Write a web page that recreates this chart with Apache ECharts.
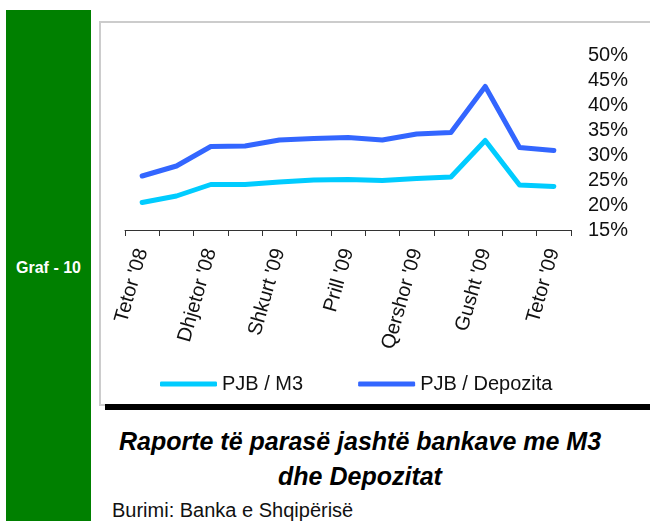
<!DOCTYPE html>
<html lang="sq">
<head>
    <meta charset="UTF-8">
    <title>Graf - 10</title>
    <script src="https://cdn.jsdelivr.net/npm/echarts/dist/echarts.min.js"></script>
    <style>
        body {
            margin: 0;
            padding: 0;
            width: 650px;
            height: 521px;
            position: relative;
            overflow: hidden;
            background: #fff;
            font-family: "Liberation Sans", Arial, sans-serif;
        }
        .sidebar {
            position: absolute;
            left: 6px;
            top: 10px;
            width: 85px;
            height: 511px;
            background: #008000;
        }
        .sidebar span {
            position: absolute;
            top: 249px;
            width: 100%;
            text-align: center;
            color: #fff;
            font-weight: bold;
            font-size: 16px;
        }
        .frame {
            position: absolute;
            left: 99px;
            top: 21px;
            width: 560px;
            height: 381px;
            border: 2px solid #cccccc;
            border-right: none;
        }
        .rule {
            position: absolute;
            left: 105px;
            top: 404px;
            width: 545px;
            height: 6px;
            background: #000;
        }
        .title {
            position: absolute;
            left: 100px;
            top: 424px;
            width: 520px;
            text-align: center;
            font-size: 25px;
            line-height: 35px;
            font-weight: bold;
            font-style: italic;
            color: #000;
        }
        .source {
            position: absolute;
            left: 112px;
            top: 499px;
            font-size: 20px;
            color: #111;
        }
        #chart {
            position: absolute;
            left: 0;
            top: 0;
            width: 650px;
            height: 521px;
        }
    </style>
</head>
<body>
<div class="sidebar"><span>Graf - 10</span></div>
<div class="frame"></div>
<div class="rule"></div>
<div class="title">Raporte të parasë jashtë bankave me M3<br>dhe Depozitat</div>
<div class="source">Burimi: Banka e Shqipërisë</div>
<div id="chart"></div>

<script>
    // muajt
    const months = ["Tetor '08", "Nëntor '08", "Dhjetor '08", "Janar '09", "Shkurt '09", "Mars '09",
        "Prill '09", "Maj '09", "Qershor '09", "Korrik '09", "Gusht '09", "Shtator '09", "Tetor '09"];

    // raportet ne %
    const pjbM3 = [20.5, 21.8, 24.1, 24.1, 24.6, 25.0, 25.1, 24.9, 25.3, 25.6, 32.9, 24.0, 23.7];
    const pjbDepozita = [25.8, 27.8, 31.7, 31.8, 33.0, 33.3, 33.5, 33.0, 34.2, 34.5, 43.7, 31.5, 30.9];

    const chart = echarts.init(document.getElementById("chart"));

    chart.setOption({
        animation: false,
        textStyle: { fontFamily: "Liberation Sans, Arial, sans-serif" },
        grid: { left: 125, right: 79, top: 55, bottom: 291, containLabel: false },
        legend: {
            left: 155,
            top: 369,
            icon: "roundRect",
            itemWidth: 57,
            itemHeight: 5,
            itemGap: 55,
            textStyle: { fontSize: 20, color: "#111" },
            data: ["PJB / M3", "PJB / Depozita"]
        },
        xAxis: {
            type: "category",
            data: months,
            boundaryGap: true,
            axisLine: { lineStyle: { color: "#333", width: 1 } },
            axisTick: { show: true, length: 6, interval: 0, lineStyle: { color: "#333" } },
            axisLabel: {
                interval: 1,
                rotate: 74,
                margin: 19,
                fontSize: 20,
                color: "#111"
            }
        },
        yAxis: {
            type: "value",
            position: "right",
            min: 15,
            max: 50,
            interval: 5,
            splitLine: { show: false },
            axisLine: { show: false },
            axisTick: { show: false },
            axisLabel: {
                margin: 17,
                fontSize: 20,
                color: "#111",
                formatter: "{value}%"
            }
        },
        series: [
            {
                name: "PJB / M3",
                type: "line",
                data: pjbM3,
                symbol: "none",
                lineStyle: { width: 5, color: "#00ccff", cap: "round", join: "round" },
                itemStyle: { color: "#00ccff" }
            },
            {
                name: "PJB / Depozita",
                type: "line",
                data: pjbDepozita,
                symbol: "none",
                lineStyle: { width: 5, color: "#3366ff", cap: "round", join: "round" },
                itemStyle: { color: "#3366ff" }
            }
        ]
    });
</script>
</body>
</html>
